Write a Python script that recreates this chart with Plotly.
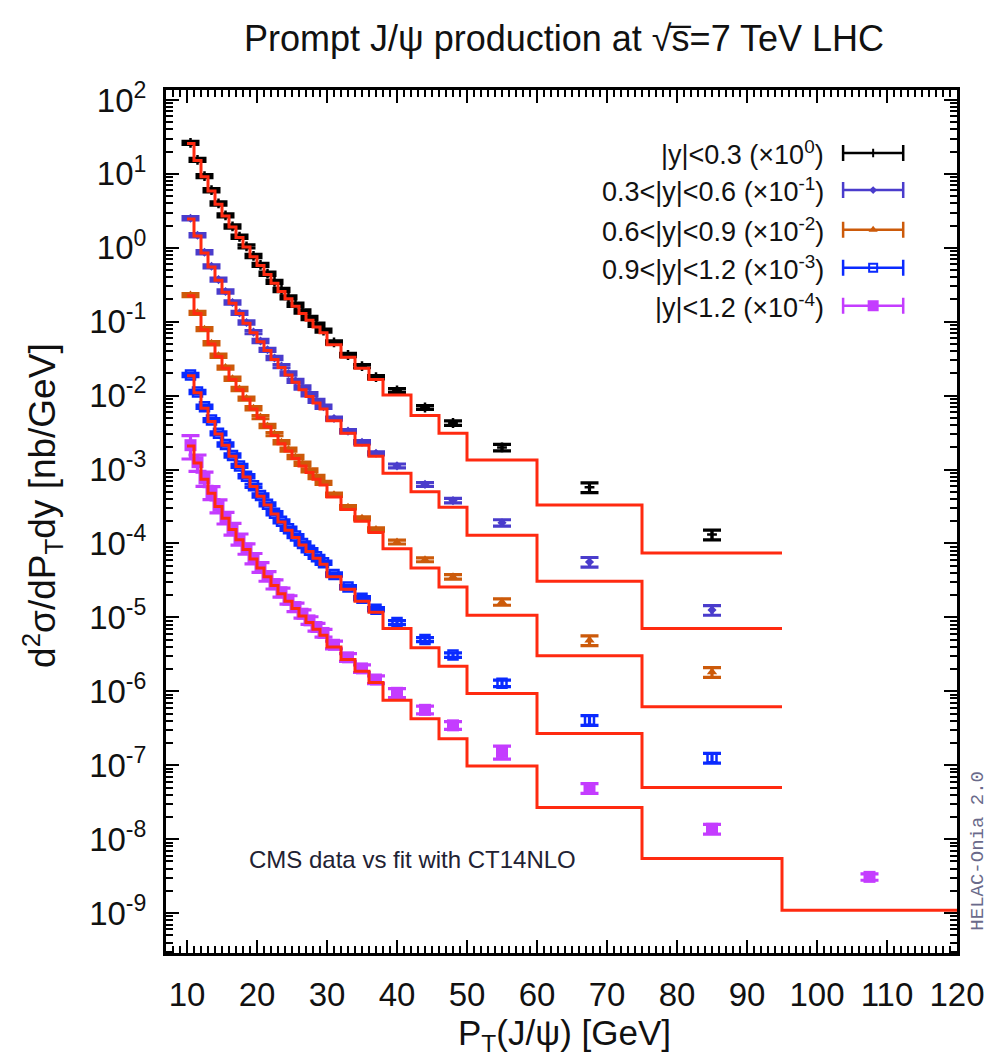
import plotly.graph_objects as go

# ---------------- data ----------------
pt_edges = [10, 11, 12, 13, 14, 15, 16, 17, 18, 19, 20, 21, 22, 23, 24, 25, 26, 27, 28, 29, 30,
            32, 34, 36, 38, 42, 46, 50, 60, 75, 95]
pt_edges_all = pt_edges + [120]
pt_centers = [10.5, 11.5, 12.5, 13.5, 14.5, 15.5, 16.5, 17.5, 18.5, 19.5, 20.5, 21.5, 22.5, 23.5,
              24.5, 25.5, 26.5, 27.5, 28.5, 29.5, 31, 33, 35, 37, 40, 44, 48, 55, 67.5, 85]
pt_centers_all = pt_centers + [107.5]

# log10 of d2sigma/dPTdy (already scaled by the legend factor)
data_y03 = [1.42, 1.19, 0.97, 0.78, 0.60, 0.44, 0.29, 0.15, 0.02, -0.11, -0.23, -0.35, -0.46, -0.57,
            -0.67, -0.77, -0.86, -0.95, -1.04, -1.12, -1.28, -1.45, -1.60, -1.75, -1.93, -2.16,
            -2.37, -2.70, -3.24, -3.88]
data_y06 = [0.40, 0.17, -0.06, -0.25, -0.43, -0.59, -0.74, -0.88, -1.01, -1.14, -1.26, -1.38, -1.49,
            -1.60, -1.70, -1.80, -1.89, -1.98, -2.07, -2.15, -2.31, -2.48, -2.63, -2.78, -2.95,
            -3.20, -3.42, -3.72, -4.25, -4.90]
data_y09 = [-0.64, -0.88, -1.10, -1.29, -1.46, -1.62, -1.77, -1.91, -2.04, -2.17, -2.29, -2.41, -2.52,
            -2.63, -2.73, -2.83, -2.92, -3.01, -3.10, -3.18, -3.34, -3.51, -3.66, -3.81, -3.98,
            -4.22, -4.45, -4.79, -5.31, -5.74]
data_y12 = [-1.72, -1.95, -2.15, -2.33, -2.51, -2.66, -2.81, -2.95, -3.09, -3.22, -3.35, -3.47, -3.59,
            -3.70, -3.80, -3.90, -4.00, -4.09, -4.18, -4.26, -4.42, -4.59, -4.74, -4.89, -5.07,
            -5.30, -5.51, -5.89, -6.39, -6.90]
data_yall = [-2.67, -2.90, -3.12, -3.31, -3.49, -3.65, -3.80, -3.94, -4.07, -4.20, -4.32, -4.44, -4.55,
             -4.66, -4.76, -4.86, -4.95, -5.04, -5.13, -5.21, -5.37, -5.54, -5.69, -5.84, -6.02,
             -6.25, -6.46, -6.82, -7.31, -7.86, -8.51]

# log10 of the CT14NLO fit (step histogram)
fit_y03 = [1.41, 1.18, 0.96, 0.77, 0.59, 0.43, 0.28, 0.14, 0.01, -0.12, -0.24, -0.36, -0.48, -0.59,
           -0.69, -0.79, -0.89, -0.98, -1.07, -1.15, -1.31, -1.48, -1.63, -1.78, -1.99, -2.27,
           -2.51, -2.87, -3.48, -4.13]
fit_y06 = [0.39, 0.16, -0.07, -0.26, -0.44, -0.60, -0.75, -0.89, -1.02, -1.15, -1.27, -1.39, -1.51,
           -1.62, -1.72, -1.82, -1.92, -2.01, -2.10, -2.18, -2.34, -2.51, -2.67, -2.82, -3.05,
           -3.30, -3.51, -3.89, -4.51, -5.15]
fit_y09 = [-0.65, -0.89, -1.11, -1.30, -1.47, -1.63, -1.78, -1.92, -2.05, -2.18, -2.30, -2.42, -2.54,
           -2.65, -2.75, -2.85, -2.95, -3.04, -3.13, -3.21, -3.37, -3.54, -3.70, -3.85, -4.07,
           -4.33, -4.59, -4.97, -5.52, -6.21]
fit_y12 = [-1.73, -1.96, -2.17, -2.35, -2.52, -2.67, -2.82, -2.96, -3.10, -3.23, -3.36, -3.48, -3.60,
           -3.71, -3.82, -3.92, -4.02, -4.11, -4.20, -4.28, -4.45, -4.62, -4.78, -4.93, -5.15,
           -5.41, -5.66, -6.03, -6.57, -7.30]
fit_yall = [-2.68, -2.91, -3.13, -3.32, -3.50, -3.66, -3.81, -3.95, -4.08, -4.21, -4.33, -4.45, -4.57,
            -4.68, -4.78, -4.88, -4.98, -5.07, -5.16, -5.24, -5.40, -5.57, -5.73, -5.88, -6.12,
            -6.37, -6.64, -7.01, -7.57, -8.26, -8.96]

# relative uncertainties
rel_err_ybins = [0.05, 0.05, 0.05, 0.05, 0.05, 0.05, 0.05, 0.05, 0.05, 0.05, 0.05, 0.05, 0.05, 0.05,
                 0.05, 0.05, 0.05, 0.05, 0.05, 0.05, 0.05, 0.05, 0.05, 0.05, 0.06, 0.06, 0.07,
                 0.10, 0.15, 0.15]
rel_err_yall = [0.35, 0.25, 0.22, 0.20, 0.20, 0.18, 0.18, 0.17, 0.16, 0.16, 0.15, 0.15, 0.14, 0.14,
                0.13, 0.13, 0.13, 0.12, 0.12, 0.12, 0.12, 0.12, 0.12, 0.12, 0.14, 0.12, 0.12,
                0.20, 0.15, 0.15, 0.10]

series_labels = ["|y|&lt;0.3 (×10<sup>0</sup>)",
                 "0.3&lt;|y|&lt;0.6 (×10<sup>-1</sup>)",
                 "0.6&lt;|y|&lt;0.9 (×10<sup>-2</sup>)",
                 "0.9&lt;|y|&lt;1.2 (×10<sup>-3</sup>)",
                 "|y|&lt;1.2 (×10<sup>-4</sup>)"]
series_colors = ["#000000", "#4a3ccc", "#cc5a0a", "#0a2aff", "#c43cff"]
series_symbols = ["cross-thin", "diamond", "triangle-up", "square-open", "square"]
series_sizes = [7, 7, 9, 9, 12]
fit_color = "#ff2a10"

y_tick_exps = [2, 1, 0, -1, -2, -3, -4, -5, -6, -7, -8, -9]
x_tick_vals = [10, 20, 30, 40, 50, 60, 70, 80, 90, 100, 110, 120]

# ---------------- figure ----------------
fig = go.Figure()

data_sets = [data_y03, data_y06, data_y09, data_y12, data_yall]
fit_sets = [fit_y03, fit_y06, fit_y09, fit_y12, fit_yall]
err_sets = [rel_err_ybins] * 4 + [rel_err_yall]

for i in range(5):
    xs = pt_centers_all if i == 4 else pt_centers
    edges = pt_edges_all if i == 4 else pt_edges
    vals = [10 ** v for v in data_sets[i]]
    errs = [v * r for v, r in zip(vals, err_sets[i])]
    col = series_colors[i]
    marker = dict(symbol=series_symbols[i], size=series_sizes[i], color=col)
    if series_symbols[i] in ("cross-thin", "square-open"):
        marker["line"] = dict(color=col, width=2.5)
    fig.add_trace(go.Scatter(
        x=xs, y=vals, mode="markers", marker=marker,
        error_y=dict(type="data", array=errs, visible=True, color=col, thickness=3.2, width=9),
        showlegend=False, xaxis="x", yaxis="y"))
    fit_vals = [10 ** v for v in fit_sets[i]]
    fig.add_trace(go.Scatter(
        x=edges, y=fit_vals + [fit_vals[-1]], mode="lines",
        line=dict(color=fit_color, width=3, shape="hv"),
        showlegend=False, xaxis="x", yaxis="y"))

# hand-drawn legend (text left, sample right, as in the reference)
legend_rows = [0.927, 0.884, 0.838, 0.794, 0.750]
for i in range(5):
    marker = dict(symbol=series_symbols[i], size=series_sizes[i] - 1, color=series_colors[i])
    if series_symbols[i] in ("cross-thin", "square-open"):
        marker["line"] = dict(color=series_colors[i], width=2)
    fig.add_trace(go.Scatter(
        x=[0.894], y=[legend_rows[i]], mode="markers", marker=marker,
        error_x=dict(type="constant", value=0.038, color=series_colors[i], thickness=2.5, width=8),
        showlegend=False, xaxis="x2", yaxis="y2", hoverinfo="skip"))
    fig.add_annotation(text=series_labels[i], xref="paper", yref="paper",
                       x=0.834, y=legend_rows[i], xanchor="right", yanchor="middle",
                       showarrow=False, font=dict(size=27, color="#111111"))

font_main = "Liberation Sans, Arial, sans-serif"

fig.update_layout(
    width=999, height=1060,
    margin=dict(l=166, r=42, t=90, b=107),
    paper_bgcolor="white", plot_bgcolor="white",
    font=dict(family=font_main, color="#111111"),
    showlegend=False,
    xaxis=dict(type="linear", range=[7, 120], tickvals=x_tick_vals,
               ticks="inside", ticklen=13, tickwidth=2, tickcolor="black",
               minor=dict(ticks="inside", ticklen=7, tickwidth=1.5, tickcolor="black", dtick=1, tick0=0),
               showline=True, linecolor="black", linewidth=3, mirror="allticks",
               showgrid=False, zeroline=False,
               tickfont=dict(size=33, family=font_main, color="#111111"), ticklabelstandoff=10),
    yaxis=dict(type="log", range=[-9.54, 2.135],
               tickvals=[10 ** e for e in y_tick_exps],
               ticktext=["10<sup>%d</sup>" % e for e in y_tick_exps],
               ticks="inside", ticklen=13, tickwidth=2, tickcolor="black",
               minor=dict(ticks="inside", ticklen=7, tickwidth=1.5, tickcolor="black", dtick="D1"),
               showline=True, linecolor="black", linewidth=3, mirror="allticks",
               showgrid=False, zeroline=False,
               tickfont=dict(size=33, family=font_main, color="#111111"), ticklabelstandoff=10),
    xaxis2=dict(overlaying="x", range=[0, 1], visible=False, fixedrange=True),
    yaxis2=dict(overlaying="y", range=[0, 1], visible=False, fixedrange=True),
)

fig.add_annotation(text="Prompt J/ψ production at √s̅=7 TeV LHC", xref="paper", yref="paper",
                   x=0.503, y=1.06, xanchor="center", yanchor="middle", showarrow=False,
                   font=dict(size=36, family=font_main, color="#111111"))
fig.add_annotation(text="d<sup>2</sup>σ/dP<sub>T</sub>dy [nb/GeV]", xref="paper", yref="paper",
                   x=-0.157, y=0.519, xanchor="center", yanchor="middle", textangle=-90,
                   showarrow=False, font=dict(size=37, family=font_main, color="#111111"))
fig.add_annotation(text="P<sub>T</sub>(J/ψ) [GeV]", xref="paper", yref="paper",
                   x=0.504, y=-0.095, xanchor="center", yanchor="middle",
                   showarrow=False, font=dict(size=35, family=font_main, color="#111111"))
fig.add_annotation(text="CMS data vs fit with CT14NLO", xref="paper", yref="paper",
                   x=0.311, y=0.108, xanchor="center", yanchor="middle",
                   showarrow=False, font=dict(size=24, family=font_main, color="#222233"))
fig.add_annotation(text="HELAC-Onia 2.0", xref="paper", yref="paper",
                   x=1.027, y=0.119, xanchor="center", yanchor="middle", textangle=-90,
                   showarrow=False, font=dict(size=19, family="Liberation Mono, monospace", color="#6a6a8a"))

fig.write_html("out.html")
